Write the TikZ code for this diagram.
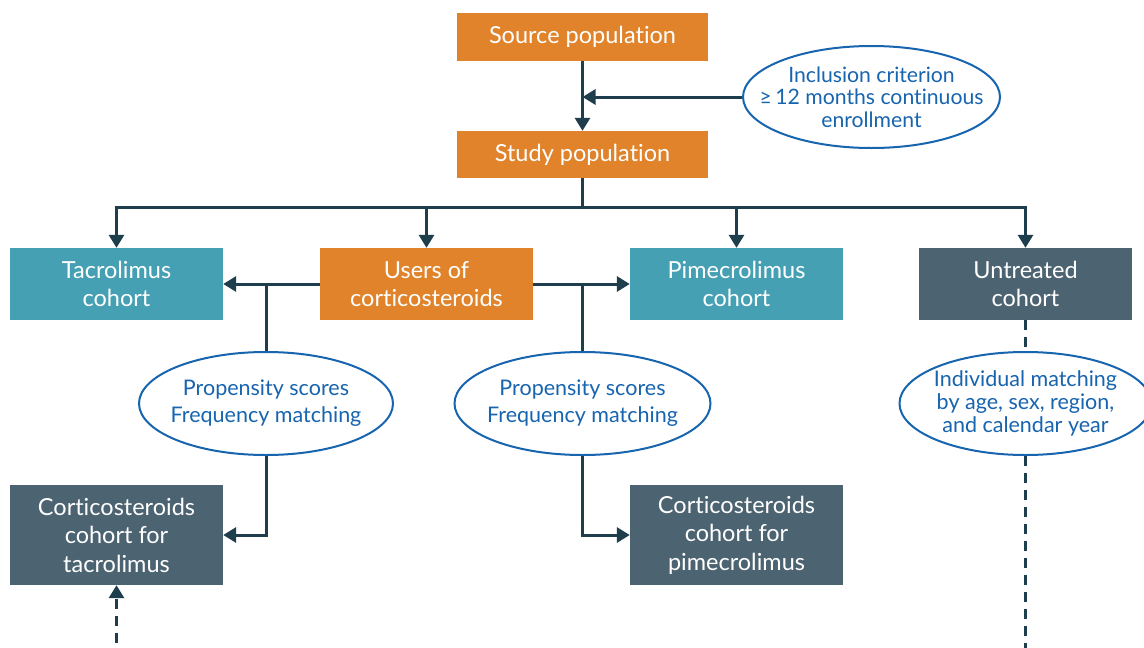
\documentclass[tikz,border=0pt]{standalone}
\usepackage{fontspec}
\setmainfont[Ligatures={NoCommon}]{Lato}
\usetikzlibrary{arrows.meta,shapes.geometric}
\definecolor{orng}{HTML}{E0832A}
\definecolor{teal}{HTML}{46A0B4}
\definecolor{slate}{HTML}{4C6371}
\definecolor{lnc}{HTML}{1E3D4D}
\definecolor{ellc}{HTML}{1764AF}
\tikzset{
  box/.style={rectangle, inner sep=0pt, align=center, text=white, font=\fontsize{23.5}{28.5}\selectfont, minimum width=213pt},
  obox/.style={box, fill=orng},
  tbox/.style={box, fill=teal},
  sbox/.style={box, fill=slate},
  oval/.style={ellipse, draw=ellc, line width=2pt, fill=white, inner xsep=-90pt, inner ysep=-40pt, align=center, text=ellc},
  conn/.style={draw=lnc, line width=3pt},
  arr/.style={conn, -{Triangle[length=13pt,width=15pt]}},
  dsh/.style={dash pattern=on 10pt off 7pt}
}
\begin{document}
\begin{tikzpicture}[x=1pt,y=-1pt]
\clip (0,0) rectangle (1144,648);
\fill[white] (0,0) rectangle (1144,648);
% nodes
\node[obox, minimum width=251pt, minimum height=48pt] (src) at (582.5,37) {Source population};
\node[obox, minimum width=251pt, minimum height=47pt] (study) at (582.5,154.5) {Study population};
\node[oval, minimum width=257pt, minimum height=102pt, font=\fontsize{21.2}{22.5}\selectfont] (incl) at (871.5,97) {Inclusion criterion\\ ≥\,12 months continuous\\ enrollment};
\node[tbox, minimum height=72pt] (tac) at (116.5,284) {Tacrolimus\\ cohort};
\node[obox, minimum height=72pt] (users) at (426.5,284) {Users of\\ corticosteroids};
\node[tbox, minimum height=72pt] (pime) at (736.5,284) {Pimecrolimus\\ cohort};
\node[sbox, minimum height=72pt] (untr) at (1025.5,284) {Untreated\\ cohort};
\node[oval, minimum width=254pt, minimum height=103pt, font=\fontsize{21.5}{27}\selectfont] (ell1) at (266,403.5) {Propensity scores\\ Frequency matching};
\node[oval, minimum width=256pt, minimum height=103pt, font=\fontsize{21.5}{27}\selectfont] (ell2) at (582.5,403.5) {Propensity scores\\ Frequency matching};
\node[oval, minimum width=252pt, minimum height=103pt, font=\fontsize{21.5}{23}\selectfont] (ell3) at (1025.5,403.5) {Individual matching\\ by age, sex, region,\\ and calendar year};
\node[sbox, minimum height=100pt] (ctac) at (116.5,535) {Corticosteroids\\ cohort for\\ tacrolimus};
\node[sbox, minimum height=100pt] (cpime) at (736.5,535) {Corticosteroids\\ cohort for\\ pimecrolimus};
% coordinates
\coordinate (bus) at (582.5,207);
\coordinate (jl) at (266,284);
\coordinate (jr) at (582.5,284);
\coordinate (b1) at (116.5,660);
\coordinate (b3) at (1025.5,660);
% connectors
\draw[arr] (src.south) -- (study.north);
\draw[arr] (incl.west) -- (incl.west -| src.south);
\draw[conn] (study.south) -- (bus);
\draw[arr] (bus) -| (tac.north);
\draw[arr] (bus) -| (users.north);
\draw[arr] (bus) -| (pime.north);
\draw[arr] (bus) -| (untr.north);
\draw[arr] (users.west) -- (tac.east);
\draw[arr] (users.east) -- (pime.west);
\draw[conn] (jl) -- (ell1.north);
\draw[conn] (jr) -- (ell2.north);
\draw[arr] (ell1.south) |- (ctac.east);
\draw[arr] (ell2.south) |- (cpime.west);
\draw[arr, dsh] (b1) -- (ctac.south);
\draw[conn, dsh] (untr.south) -- (ell3.north);
\draw[conn, dsh] (ell3.south) -- (b3);
\end{tikzpicture}
\end{document}
